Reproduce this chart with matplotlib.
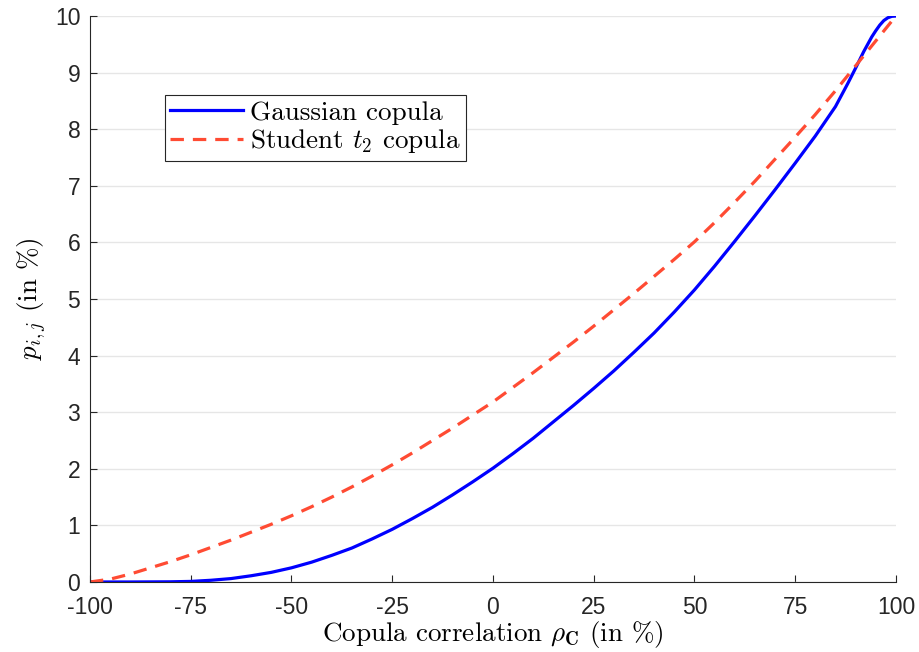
import numpy as np
import matplotlib
matplotlib.use("Agg")
import matplotlib.pyplot as plt

# copula correlation (in %) and joint default probabilities p_ij (in %)
rho_gauss = [-100, -90, -80, -75, -70, -65, -60, -55, -50, -45, -40, -35, -30,
             -25, -20, -15, -10, -5, 0, 5, 10, 15, 20, 25, 30, 35, 40, 45, 50,
             55, 60, 65, 70, 75, 80, 85, 88, 90, 92, 94, 95, 96, 97, 98, 99,
             100]
p_gauss = [0.0, 0.0, 0.003, 0.01, 0.03, 0.06, 0.11, 0.17, 0.25, 0.35, 0.47,
           0.6, 0.76, 0.93, 1.12, 1.32, 1.54, 1.77, 2.01, 2.27, 2.54, 2.83,
           3.12, 3.42, 3.73, 4.06, 4.4, 4.77, 5.16, 5.58, 6.02, 6.47, 6.93,
           7.4, 7.88, 8.4, 8.8, 9.08, 9.37, 9.63, 9.74, 9.84, 9.92, 9.97,
           9.995, 10.0]

rho_t = [-100, -95, -90, -85, -80, -75, -70, -65, -60, -55, -50, -45, -40,
         -35, -30, -25, -20, -15, -10, -5, 0, 5, 10, 15, 20, 25, 30, 35, 40,
         45, 50, 55, 60, 65, 70, 75, 80, 85, 90, 95, 100]
p_t = [0.0, 0.05, 0.14, 0.25, 0.36, 0.48, 0.61, 0.74, 0.88, 1.02, 1.17, 1.33,
       1.5, 1.68, 1.87, 2.07, 2.28, 2.5, 2.72, 2.95, 3.18, 3.44, 3.7, 3.97,
       4.24, 4.52, 4.81, 5.1, 5.4, 5.7, 6.01, 6.35, 6.71, 7.08, 7.47, 7.86,
       8.26, 8.68, 9.12, 9.56, 10.0]

xticks = [-100, -75, -50, -25, 0, 25, 50, 75, 100]
yticks = list(range(0, 11))

plt.rcParams['font.family'] = ['Liberation Sans', 'DejaVu Sans']
plt.rcParams['mathtext.fontset'] = 'cm'
plt.rcParams['axes.unicode_minus'] = False

fig = plt.figure(figsize=(9.2, 6.52), dpi=100)
ax = fig.add_axes([0.0978, 0.1074, 0.876, 0.868])

ax.plot(rho_gauss, p_gauss, color='#0000ff', lw=2.3, label='Gaussian copula')
ax.plot(rho_t, p_t, color='#ff4b33', lw=2.3, dashes=(4.2, 2.8),
        label=r'Student $t_2$ copula')

ax.set_xlim(-100, 100)
ax.set_ylim(0, 10)
ax.set_xticks(xticks)
ax.set_yticks(yticks)
ax.tick_params(direction='in', length=5, labelsize=16.5, colors='#262626',
               top=False, right=False)
ax.tick_params(axis='x', pad=10)
ax.tick_params(axis='y', pad=7)
ax.yaxis.grid(True, color='#e6e6e6', lw=1)
ax.set_axisbelow(True)
for s in ['top', 'right']:
    ax.spines[s].set_visible(False)
for s in ['left', 'bottom']:
    ax.spines[s].set_color('#262626')

ax.set_xlabel(r'Copula correlation $\rho_{\mathbf{C}}$ (in %)',
              fontname='cmr10', fontsize=19.5, labelpad=0)
ax.set_ylabel(r'$p_{i,j}$ (in %)', fontname='cmr10', fontsize=19.5,
              labelpad=5)

leg = ax.legend(loc='upper left', bbox_to_anchor=(0.093, 0.86),
                borderaxespad=0, fancybox=False, framealpha=1,
                edgecolor='#262626', prop={'family': 'cmr10', 'size': 19.5},
                handlelength=2.7, handletextpad=0.25, borderpad=0.2,
                labelspacing=0.1)
leg.get_frame().set_linewidth(0.8)

fig.savefig('out.png', dpi=100)
